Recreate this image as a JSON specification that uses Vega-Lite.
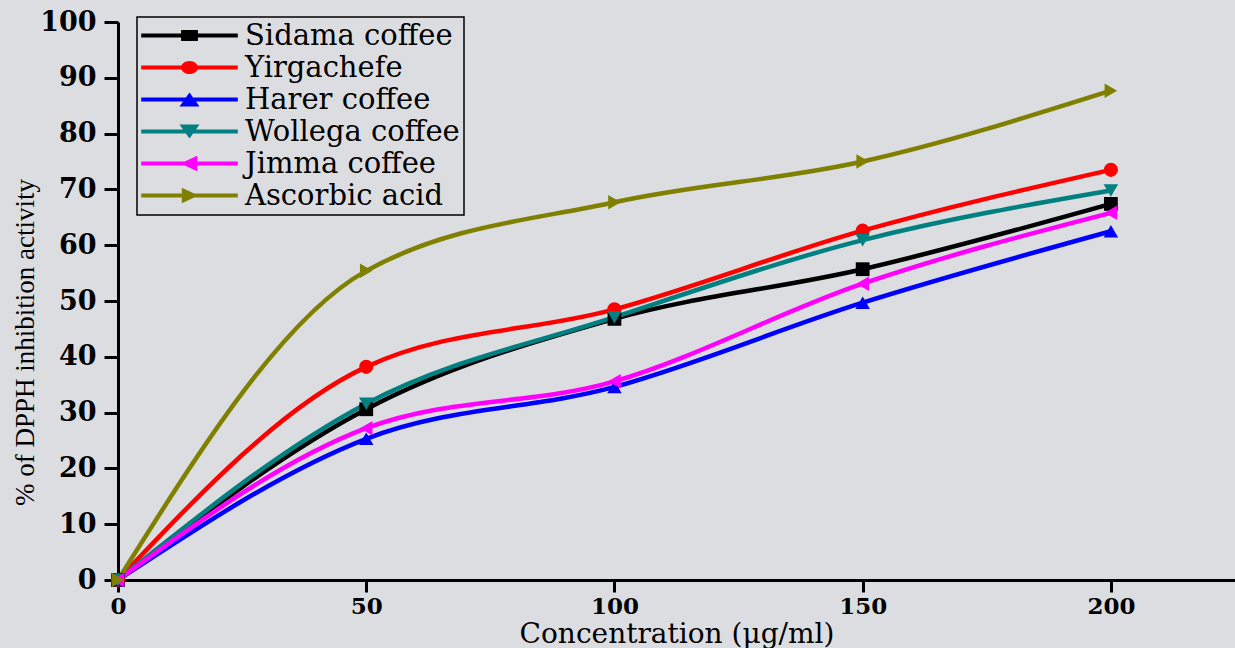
{
  "$schema": "https://vega.github.io/schema/vega-lite/v6.json",
  "autosize": {"type": "none"},
  "padding": {"left": 118, "top": 22, "right": 0, "bottom": 68},
  "width": 1117,
  "height": 558,
  "background": "#dcdde0",
  "config": {
    "view": {"stroke": null},
    "axis": {"grid": false}
  },
  "data": {
    "values": [
      {"series": "Sidama coffee", "conc": 0, "inh": 0},
      {"series": "Sidama coffee", "conc": 50, "inh": 30.6},
      {"series": "Sidama coffee", "conc": 100, "inh": 46.8},
      {"series": "Sidama coffee", "conc": 150, "inh": 55.7},
      {"series": "Sidama coffee", "conc": 200, "inh": 67.4},
      {"series": "Yirgachefe", "conc": 0, "inh": 0},
      {"series": "Yirgachefe", "conc": 50, "inh": 38.2},
      {"series": "Yirgachefe", "conc": 100, "inh": 48.5},
      {"series": "Yirgachefe", "conc": 150, "inh": 62.6},
      {"series": "Yirgachefe", "conc": 200, "inh": 73.5},
      {"series": "Harer coffee", "conc": 0, "inh": 0},
      {"series": "Harer coffee", "conc": 50, "inh": 25.3},
      {"series": "Harer coffee", "conc": 100, "inh": 34.6},
      {"series": "Harer coffee", "conc": 150, "inh": 49.7},
      {"series": "Harer coffee", "conc": 200, "inh": 62.5},
      {"series": "Wollega coffee", "conc": 0, "inh": 0},
      {"series": "Wollega coffee", "conc": 50, "inh": 31.6},
      {"series": "Wollega coffee", "conc": 100, "inh": 47.1},
      {"series": "Wollega coffee", "conc": 150, "inh": 60.9},
      {"series": "Wollega coffee", "conc": 200, "inh": 69.8},
      {"series": "Jimma coffee", "conc": 0, "inh": 0},
      {"series": "Jimma coffee", "conc": 50, "inh": 27.2},
      {"series": "Jimma coffee", "conc": 100, "inh": 35.6},
      {"series": "Jimma coffee", "conc": 150, "inh": 53.1},
      {"series": "Jimma coffee", "conc": 200, "inh": 65.8},
      {"series": "Ascorbic acid", "conc": 0, "inh": 0},
      {"series": "Ascorbic acid", "conc": 50, "inh": 55.4},
      {"series": "Ascorbic acid", "conc": 100, "inh": 67.7},
      {"series": "Ascorbic acid", "conc": 150, "inh": 75.0},
      {"series": "Ascorbic acid", "conc": 200, "inh": 87.7}
    ]
  },
  "encoding": {
    "x": {
      "field": "conc", "type": "quantitative",
      "scale": {"domain": [0, 225], "nice": false, "zero": true},
      "axis": {
        "values": [0, 50, 100, 150, 200],
        "title": "Concentration (μg/ml)",
        "domainColor": "black", "domainWidth": 3,
        "tickColor": "black", "tickWidth": 3, "tickSize": 12,
        "labelFont": "DejaVu Serif", "labelFontWeight": "bold", "labelFontSize": 23,
        "labelColor": "black", "labelPadding": 3, "labelFlush": false,
        "titleFont": "DejaVu Serif", "titleFontWeight": "normal", "titleFontSize": 28,
        "titleColor": "black", "titlePadding": 2
      }
    },
    "y": {
      "field": "inh", "type": "quantitative",
      "scale": {"domain": [0, 100], "nice": false},
      "axis": {
        "values": [0, 10, 20, 30, 40, 50, 60, 70, 80, 90, 100],
        "title": "% of DPPH inhibition activity",
        "domainColor": "black", "domainWidth": 3,
        "tickColor": "black", "tickWidth": 3, "tickSize": 14,
        "labelFont": "DejaVu Serif", "labelFontWeight": "bold", "labelFontSize": 27,
        "labelColor": "black", "labelPadding": 8, "labelFlush": false,
        "titleFont": "Liberation Serif", "titleFontWeight": "normal", "titleFontSize": 27,
        "titleColor": "black", "titlePadding": 0, "titleY": 320
      }
    },
    "color": {
      "field": "series", "type": "nominal",
      "sort": ["Sidama coffee", "Yirgachefe", "Harer coffee", "Wollega coffee", "Jimma coffee", "Ascorbic acid"],
      "scale": {
        "domain": ["Sidama coffee", "Yirgachefe", "Harer coffee", "Wollega coffee", "Jimma coffee", "Ascorbic acid"],
        "range": ["#000000", "#ff0000", "#0000ff", "#008080", "#ff00ff", "#808000"]
      },
      "legend": {
        "title": null,
        "orient": "none",
        "legendX": 19,
        "legendY": -5,
        "direction": "vertical",
        "fillColor": "#dcdde0",
        "strokeColor": "black",
        "padding": 4,
        "symbolSize": 196,
        "symbolStrokeWidth": 0,
        "symbolOffset": 34,
        "labelOffset": 41,
        "rowPadding": 2,
        "labelFont": "DejaVu Serif",
        "labelFontSize": 29,
        "labelColor": "black",
        "labelLimit": 400,
        "encode": {
          "legend": {
            "update": {"strokeWidth": {"value": 1.5}}
          },
          "symbols": {
            "update": {
              "shape": {"signal": "datum.value === 'Sidama coffee' ? 'M-6.9,-0.29H6.9V0.29H-6.9Z M-1.2,-0.8H1.2V0.8H-1.2Z' : datum.value === 'Yirgachefe' ? 'M-6.9,-0.29H6.9V0.29H-6.9Z M-1.2,0A1.2,0.93 0 1,1 1.2,0A1.2,0.93 0 1,1 -1.2,0Z' : datum.value === 'Harer coffee' ? 'M-6.9,-0.29H6.9V0.29H-6.9Z M0,-1L1.43,1H-1.43Z' : datum.value === 'Wollega coffee' ? 'M-6.9,-0.29H6.9V0.29H-6.9Z M-1.43,-1H1.43L0,1Z' : datum.value === 'Jimma coffee' ? 'M-6.9,-0.29H6.9V0.29H-6.9Z M-1.3,0L1.1,-1.1V1.1Z' : 'M-6.9,-0.29H6.9V0.29H-6.9Z M1.3,0L-1.1,1.1V-1.1Z'"},
              "fill": {"scale": "color", "field": "value"},
              "stroke": {"value": "transparent"},
              "opacity": {"value": 1},
              "fillOpacity": {"value": 1}
            }
          }
        }
      }
    }
  },
  "layer": [
    {
      "mark": {"type": "line", "interpolate": "monotone", "strokeWidth": 4.5},
      "encoding": {
        "detail": {"field": "series", "type": "nominal"}
      }
    },
    {
      "transform": [{"filter": "datum.series === 'Sidama coffee'"}],
      "mark": {"type": "point", "filled": true, "opacity": 1, "size": 190, "shape": "square"}
    },
    {
      "transform": [{"filter": "datum.series === 'Yirgachefe'"}],
      "mark": {"type": "point", "filled": true, "opacity": 1, "size": 200, "shape": "circle"}
    },
    {
      "transform": [{"filter": "datum.series === 'Harer coffee'"}],
      "mark": {"type": "point", "filled": true, "opacity": 1, "size": 210, "shape": "triangle-up"}
    },
    {
      "transform": [{"filter": "datum.series === 'Wollega coffee'"}],
      "mark": {"type": "point", "filled": true, "opacity": 1, "size": 210, "shape": "triangle-down"}
    },
    {
      "transform": [{"filter": "datum.series === 'Jimma coffee'"}],
      "mark": {"type": "point", "filled": true, "opacity": 1, "size": 210, "shape": "triangle-left"}
    },
    {
      "transform": [{"filter": "datum.series === 'Ascorbic acid'"}],
      "mark": {"type": "point", "filled": true, "opacity": 1, "size": 210, "shape": "triangle-right"}
    }
  ]
}
